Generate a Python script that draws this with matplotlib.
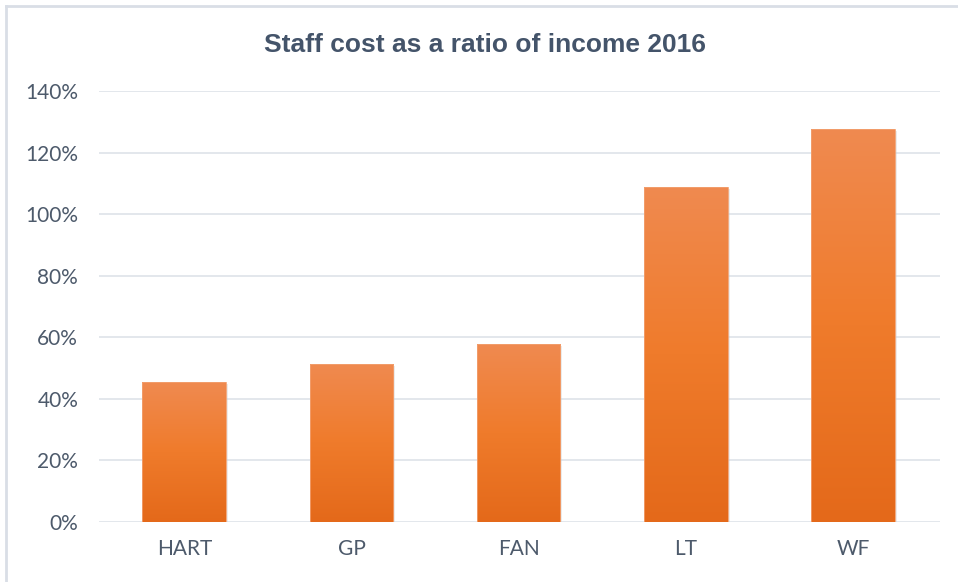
import matplotlib
matplotlib.use("Agg")
import matplotlib.pyplot as plt
import numpy as np
from matplotlib.colors import LinearSegmentedColormap
from matplotlib.lines import Line2D

categories = ["HART", "GP", "FAN", "LT", "WF"]
values = [45.5, 51.4, 57.7, 109.0, 127.6]
yticks = [0, 20, 40, 60, 80, 100, 120, 140]
ytick_labels = ["0%", "20%", "40%", "60%", "80%", "100%", "120%", "140%"]
title = "Staff cost as a ratio of income 2016"

W, H = 958, 582
fig = plt.figure(figsize=(W / 100, H / 100), dpi=100)
fig.patch.set_facecolor("white")

ax = fig.add_axes([99 / W, (H - 522) / H, (940 - 99) / W, (522 - 91.3) / H])
ax.set_xlim(-0.51, 4.52)
ax.set_ylim(0, 140)

grid_color = "#e1e5ea"
for t in yticks:
    ax.axhline(t, color=grid_color, lw=1.3, zorder=0)

cmap = LinearSegmentedColormap.from_list(
    "g", ["#e4691a", "#ef7b2b", "#f08a50"])
grad = np.linspace(0, 1, 256).reshape(-1, 1)

x = np.arange(len(categories))
bars = ax.bar(x, values, width=0.5, color="none", edgecolor="none", zorder=2)
for b in bars:
    x0, w, h = b.get_x(), b.get_width(), b.get_height()
    # soft shadow
    ax.bar(x0 + w / 2 + 0.012, h, width=w, bottom=-0.6, color="#c8c8c8",
           alpha=0.35, zorder=1.5, edgecolor="none")
    im = ax.imshow(grad, cmap=cmap, extent=[x0, x0 + w, 0, h],
                   origin="lower", aspect="auto", zorder=2)
    im.set_clip_path(b)
    ax.add_patch(plt.Rectangle((x0, 0), w, h, fill=False,
                               edgecolor="#f2a070", lw=0.6, zorder=3))
ax.set_xlim(-0.51, 4.52)
ax.set_ylim(0, 140)

for s in ax.spines.values():
    s.set_visible(False)
ax.set_xticks(x)
ax.set_xticklabels(categories)
ax.set_yticks(yticks)
ax.set_yticklabels(ytick_labels)
ax.tick_params(length=0, colors="#4d5a6b", labelsize=15)
ax.tick_params(axis="x", pad=12)
ax.tick_params(axis="y", pad=15)
for lab in ax.get_xticklabels() + ax.get_yticklabels():
    lab.set_family("Lato")
    lab.set_color("#4d5a6b")

fig.text(485 / W, (H - 45) / H, title, ha="center", va="center",
         fontsize=19, fontweight="bold", color="#44546a",
         family="Liberation Sans")

# outer chart frame (left and top visible)
fig.add_artist(Line2D([5.5 / W, 5.5 / W], [0, (H - 6) / H],
                      color="#d9dee6", lw=2, transform=fig.transFigure))
fig.add_artist(Line2D([5.5 / W, 1], [(H - 6) / H, (H - 6) / H],
                      color="#d9dee6", lw=2, transform=fig.transFigure))

fig.savefig("out.png", dpi=100, facecolor="white")
